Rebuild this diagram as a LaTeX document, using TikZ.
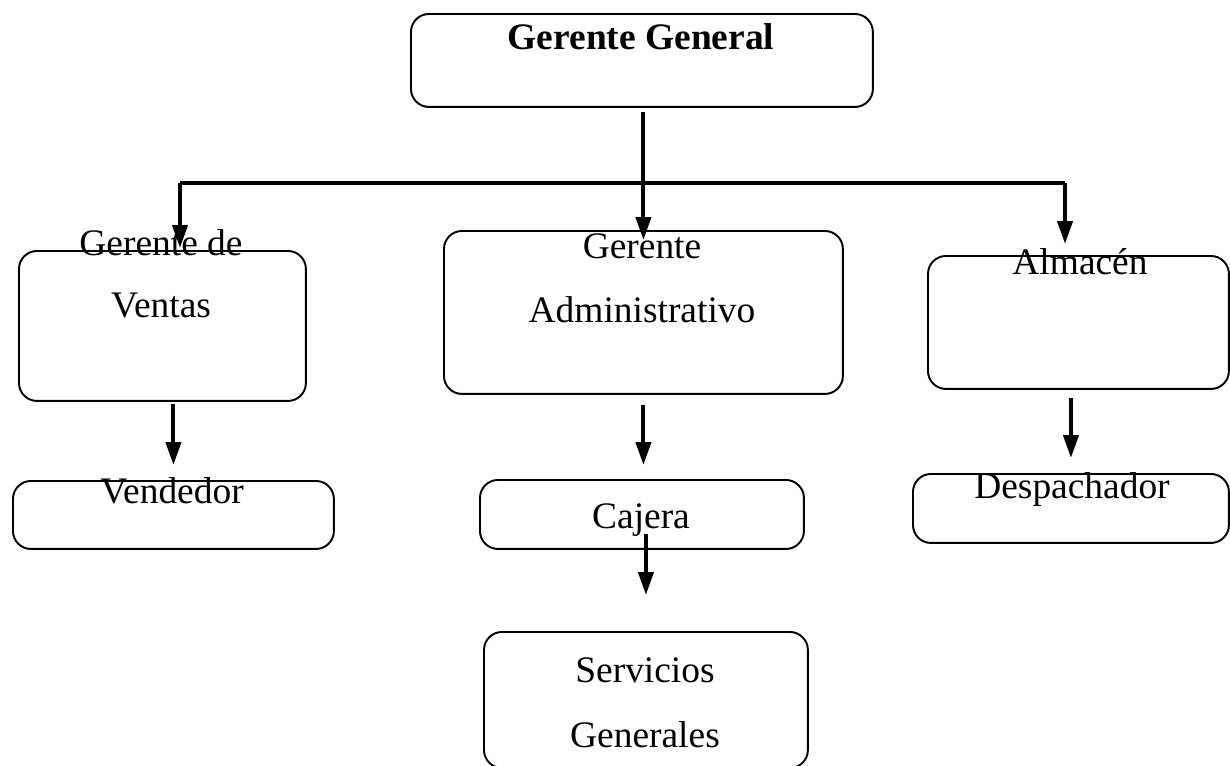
\documentclass[tikz,border=0pt]{standalone}
\usepackage{fontspec}
\setmainfont{Liberation Serif}
\usetikzlibrary{arrows.meta}
\newcommand{\orgfont}{\fontsize{21.3}{25}\selectfont}
\begin{document}
\begin{tikzpicture}[x=0.02cm,y=-0.02cm,
  box/.style={draw,line width=1.1pt,rounded corners=0.36cm,anchor=north west,inner sep=0pt},
  lbl/.style={anchor=base,inner sep=0pt,font=\orgfont},
  arr/.style={line width=2.3pt,-{Triangle[length=0.46cm,width=0.3cm]}},
  bus/.style={line width=1.8pt}]
\useasboundingbox (0,0) rectangle (1230,765);

% boxes
\node[box,minimum width=9.24cm,minimum height=1.86cm] (gg) at (410,13) {};
\node[box,minimum width=5.74cm,minimum height=3.0cm] (ventas) at (18,250) {};
\node[box,minimum width=7.98cm,minimum height=3.26cm] (ga) at (443,230) {};
\node[box,minimum width=6.02cm,minimum height=2.66cm] (alm) at (927,255) {};
\node[box,minimum width=6.42cm,minimum height=1.36cm] (vendedor) at (12,480) {};
\node[box,minimum width=6.48cm,minimum height=1.38cm] (cajera) at (479,479) {};
\node[box,minimum width=6.32cm,minimum height=1.38cm] (desp) at (912,473) {};
\node[box,minimum width=6.48cm,minimum height=2.72cm] (serv) at (483,631) {};

% texts
\node[lbl,font=\orgfont\bfseries] (tgg) at (641,49) {Gerente General};
\node[lbl] (tventas1) at (161,255) {Gerente de};
\node[lbl] (tventas2) at (161,317) {Ventas};
\node[lbl] (tga1) at (642,258) {Gerente};
\node[lbl] (tga2) at (642,322) {Administrativo};
\node[lbl] (talm) at (1080,274) {Almacén};
\node[lbl] (tvendedor) at (172,503) {Vendedor};
\node[lbl] (tcajera) at (641,528) {Cajera};
\node[lbl] (tdesp) at (1072,498) {Despachador};
\node[lbl] (tserv1) at (645,682) {Servicios};
\node[lbl] (tserv2) at (645,747) {Generales};

% connectors
\coordinate (busL) at (180,183);
\coordinate (busR) at (1065,183);
\draw[bus] (busL) -- (busR);
\draw[arr,shorten <=0.08cm,shorten >=-0.2cm] (ga.north |- gg.south) -- (ga.north);
\draw[arr,shorten >=0.04cm] (busL) -- (busL |- ventas.north);
\draw[arr,shorten >=0.22cm] (busR) -- (busR |- alm.north);
\draw[arr,shorten <=0.04cm,shorten >=0.3cm] (vendedor.north |- ventas.south) -- (vendedor.north);
\draw[arr,shorten <=0.2cm,shorten >=0.28cm] (ga.south) -- (ga.south |- cajera.north);
\draw[arr,shorten <=-0.32cm,shorten >=0.72cm] (serv.north |- cajera.south) -- (serv.north);
\draw[arr,shorten <=0.16cm,shorten >=0.3cm] (desp.north |- alm.south) -- (desp.north);
\end{tikzpicture}
\end{document}
